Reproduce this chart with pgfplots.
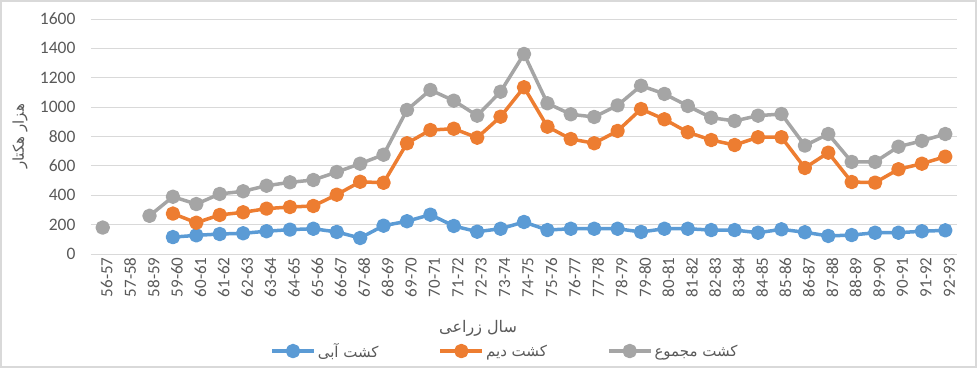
\documentclass[border=0pt]{standalone}
\usepackage{pgfplots}
\pgfplotsset{compat=1.18}
\usepackage{pgfplotstable}
\usepackage{fontspec}
\setmainfont{Carlito}
\newfontfamily\arabicfont[Script=Arabic]{DejaVu Sans}
\TeXXeTstate=1
\definecolor{cblue}{HTML}{5B9BD5}
\definecolor{corange}{HTML}{ED7D31}
\definecolor{cgray}{HTML}{A5A5A5}
\definecolor{gridc}{HTML}{D9D9D9}
\definecolor{txt}{HTML}{595959}
\pgfplotstableread{
x gray orange blue
0 180 nan nan
1 nan nan nan
2 260 nan nan
3 390 275 115
4 340 213 127
5 409 266 136
6 427 284 141
7 465 309 155
8 488 320 166
9 504 327 172
10 558 404 150
11 615 492 109
12 676 485 193
13 981 754 223
14 1117 844 268
15 1044 853 191
16 942 792 152
17 1105 935 172
18 1362 1135 218
19 1026 867 163
20 951 783 172
21 933 754 172
22 1012 838 172
23 1146 987 150
24 1090 917 172
25 1008 829 172
26 928 776 163
27 906 742 163
28 942 795 145
29 953 795 168
30 738 586 148
31 817 690 123
32 627 490 129
33 627 486 145
34 731 577 145
35 770 615 155
36 817 663 161
}\datatable
\begin{document}
\begin{tikzpicture}
\useasboundingbox (-91pt,-114pt) rectangle (886pt,254pt);
\draw[gridc, line width=1.5pt] (-90pt,-113pt) rectangle (885pt,253pt);
\begin{axis}[
  scale only axis,
  width=866pt, height=235pt,
  xmin=-0.5, xmax=36.5,
  ymin=0, ymax=1600,
  ytick={0,200,...,1600},
  xtick={0,...,36},
  xticklabels={56-57,57-58,58-59,59-60,60-61,61-62,62-63,63-64,64-65,65-66,66-67,67-68,68-69,69-70,70-71,71-72,72-73,73-74,74-75,75-76,76-77,77-78,78-79,79-80,80-81,81-82,82-83,83-84,84-85,85-86,86-87,87-88,88-89,89-90,90-91,91-92,92-93},
  x tick label style={rotate=90, anchor=east, font=\fontsize{17}{19}\selectfont, text=txt},
  y tick label style={font=\fontsize{17.5}{19}\selectfont, text=txt},
  /pgf/number format/assume math mode=true,
  /pgf/number format/1000 sep={},
  xtick pos=bottom,
  major tick length=0pt,
  xtick style={draw=none}, ytick style={draw=none},
  yticklabel style={xshift=-12pt},
  xticklabel style={yshift=-4pt},
  axis line style={draw=none},
  ymajorgrids,
  major grid style={gridc, line width=1pt},
  unbounded coords=jump,
  clip=false,
  xlabel={\arabicfont\fontsize{16}{18}\selectfont\beginR سال زراعی\endR},
  xlabel style={at={(axis description cs:0.447,-0.315)}, anchor=center, text=txt},
  ylabel={\arabicfont\fontsize{15}{17}\selectfont\beginR هزار هکتار\endR},
  ylabel style={at={(axis description cs:-0.082,0.5)}, anchor=center, text=txt},
  legend columns=3,
  legend style={at={(axis description cs:0.478,-0.413)}, anchor=center, draw=none, fill=none,
    font=\arabicfont\fontsize{15}{17}\selectfont, text=txt,
    /tikz/every even column/.append style={column sep=58pt}},
  legend image code/.code={\draw[mark repeat=2,mark phase=2,#1] plot coordinates {(0pt,0pt) (21pt,0pt) (42pt,0pt)};},
  every axis plot/.append style={line width=3.5pt, line join=round, mark=*, mark size=5.5pt},
]
\addplot[cblue, mark options={fill=cblue, draw=none}] table[x=x,y=blue]{\datatable};
\addlegendentry{\beginR کشت آبی\endR}
\addplot[corange, mark options={fill=corange, draw=none}] table[x=x,y=orange]{\datatable};
\addlegendentry{\beginR کشت دیم\endR}
\addplot[cgray, mark options={fill=cgray, draw=none}] table[x=x,y=gray]{\datatable};
\addlegendentry{\beginR کشت مجموع\endR}
\end{axis}
\end{tikzpicture}
\end{document}
